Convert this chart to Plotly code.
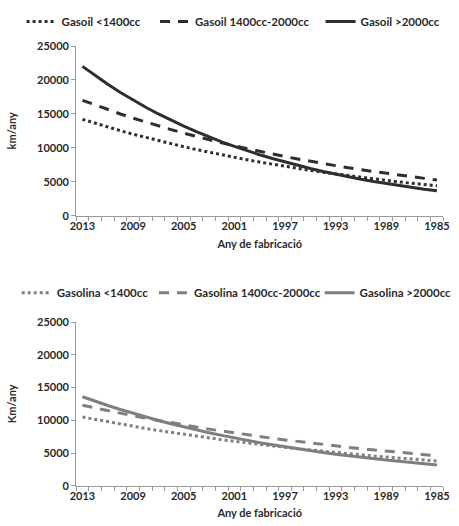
import plotly.graph_objects as go

years = list(range(2013, 1984, -1))

gasoil_lt1400 = [14200, 13620, 13060, 12520, 12010, 11520, 11050, 10590, 10160, 9740,
                 9340, 8960, 8590, 8240, 7900, 7580, 7270, 6970, 6680, 6410,
                 6150, 5890, 5650, 5420, 5200, 4980, 4780, 4580, 4400]
gasoil_mid = [17000, 16300, 15630, 14990, 14380, 13790, 13230, 12690, 12170, 11670,
              11190, 10730, 10290, 9870, 9470, 9080, 8710, 8350, 8010, 7680,
              7370, 7060, 6770, 6500, 6230, 5980, 5730, 5500, 5270]
gasoil_gt2000 = [22000, 20640, 19360, 18160, 17030, 15980, 14990, 14060, 13190, 12370,
                 11600, 10880, 10210, 9570, 8980, 8420, 7900, 7410, 6950, 6520,
                 6120, 5740, 5380, 5050, 4740, 4440, 4170, 3910, 3670]

gasolina_lt1400 = [10500, 10130, 9770, 9420, 9080, 8760, 8450, 8150, 7860, 7580,
                   7310, 7050, 6800, 6550, 6320, 6100, 5880, 5670, 5470, 5270,
                   5090, 4900, 4730, 4560, 4400, 4240, 4090, 3950, 3800]
gasolina_mid = [12300, 11880, 11470, 11070, 10690, 10320, 9960, 9620, 9290, 8970,
                8660, 8360, 8070, 7790, 7520, 7260, 7010, 6770, 6540, 6310,
                6090, 5880, 5680, 5480, 5290, 5110, 4930, 4760, 4600]
gasolina_gt2000 = [13600, 12910, 12260, 11650, 11060, 10500, 9970, 9470, 8990, 8540,
                   8110, 7700, 7310, 6940, 6590, 6260, 5950, 5650, 5360, 5090,
                   4840, 4590, 4360, 4140, 3930, 3740, 3550, 3370, 3200]

tick_years = [2013, 2009, 2005, 2001, 1997, 1993, 1989, 1985]
y_ticks = [0, 5000, 10000, 15000, 20000, 25000]

FONT = dict(family="Lato", size=11, color="#2a2a2a", weight="bold")
LFONT = dict(family="Lato", size=11.5, color="#2a2a2a", weight="bold")
TOPC = "#2e2e2e"
BOTC = "#7f7f7f"
AXC = "#9a9a9a"

W, H = 459, 526
def fy(px):
    return 1 - px / H
def fx(px):
    return px / W

fig = go.Figure()

series = [
    (gasoil_lt1400, "Gasoil <1400cc", TOPC, "dot", "x", "y", 16, 0),
    (gasoil_mid, "Gasoil 1400cc-2000cc", TOPC, "10px,8px", "x", "y", 153, 0),
    (gasoil_gt2000, "Gasoil >2000cc", TOPC, "solid", "x", "y", 323, 0),
    (gasolina_lt1400, "Gasolina <1400cc", BOTC, "dot", "x2", "y2", 11, 278),
    (gasolina_mid, "Gasolina 1400cc-2000cc", BOTC, "10px,8px", "x2", "y2", 152, 278),
    (gasolina_gt2000, "Gasolina >2000cc", BOTC, "solid", "x2", "y2", 322, 278),
]

legends = {}
for i, (y, name, color, dash, xa, ya, lx, ly) in enumerate(series):
    key = "legend" if i == 0 else f"legend{i + 1}"
    fig.add_trace(go.Scatter(x=years, y=y, name=name, mode="lines",
                             line=dict(color=color, dash=dash, width=3),
                             xaxis=xa, yaxis=ya, legend=key))
    legends[key] = dict(orientation="h", x=fx(lx), xanchor="left", y=fy(ly),
                        yanchor="top", font=LFONT, bgcolor="rgba(0,0,0,0)",
                        tracegroupgap=0)

xcommon = dict(range=[2013.5, 1984.5], tickmode="array", tickvals=tick_years,
               ticktext=[str(t) for t in tick_years], ticks="", showgrid=False,
               showline=True, linecolor=AXC, linewidth=1, zeroline=False,
               tickfont=FONT, ticklabeloverflow="allow",
               minor=dict(tickmode="linear", tick0=2013.5, dtick=1, ticks="outside",
                          ticklen=4, tickcolor=AXC, showgrid=False))
ycommon = dict(range=[0, 25000], tickvals=y_ticks, tickformat="d", ticks="outside",
               ticklen=4, tickcolor=AXC, showgrid=False, showline=True,
               linecolor=AXC, linewidth=1, zeroline=False, tickfont=FONT)

fig.update_layout(
    width=W, height=H,
    margin=dict(l=0, r=0, t=0, b=0),
    paper_bgcolor="white", plot_bgcolor="white",
    font=FONT,
    showlegend=True,
    xaxis=dict(**xcommon, domain=[fx(72), fx(449)], anchor="y",
               title=dict(text="Any de fabricació", font=FONT, standoff=9)),
    yaxis=dict(**ycommon, domain=[fy(214), fy(40)], anchor="x",
               title=dict(text="km/any", font=FONT, standoff=18)),
    xaxis2=dict(**xcommon, domain=[fx(72), fx(449)], anchor="y2",
                title=dict(text="Any de fabricació", font=FONT, standoff=8)),
    yaxis2=dict(**ycommon, domain=[fy(491), fy(323)], anchor="x2",
                title=dict(text="Km/any", font=FONT, standoff=18)),
    **legends,
)

fig.write_html("out.html", config={"displayModeBar": False},
               post_script="document.body.style.margin='0';")
